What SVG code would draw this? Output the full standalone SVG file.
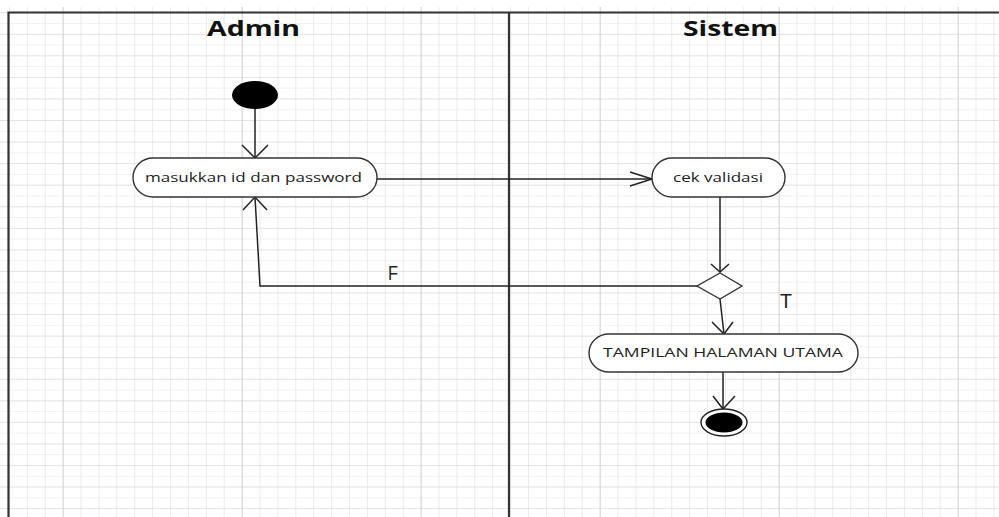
<svg xmlns="http://www.w3.org/2000/svg" width="999" height="517" viewBox="0 0 999 517">
  <style>
    .lane { stroke: #333; stroke-width: 2.2; fill: none; }
    .act { fill: #fff; stroke: #333; stroke-width: 1.4; }
    .label { font-family: "Open Sans", "DejaVu Sans", sans-serif; font-size: 12.5px; fill: #222; }
    .head { font-family: "Open Sans", "DejaVu Sans", sans-serif; font-size: 22px; font-weight: bold; fill: #111; }
    .guard { font-family: "Liberation Sans", Arial, sans-serif; font-size: 20px; fill: #222; }
    .flow { stroke: #222; stroke-width: 1.5; fill: none; }
  </style>
  <defs>
    <pattern id="gridV" patternUnits="userSpaceOnUse" x="8.9" y="0" width="17.9" height="517">
      <line x1="0" y1="0" x2="0" y2="517" stroke="#e3e3e3" stroke-width="1.4"/>
    </pattern>
    <pattern id="gridH" patternUnits="userSpaceOnUse" x="0" y="12.2" width="999" height="10.78">
      <line x1="0" y1="0" x2="999" y2="0" stroke="#e3e3e3" stroke-width="1.2"/>
    </pattern>
    <pattern id="gridMajorV" patternUnits="userSpaceOnUse" x="62.7" y="0" width="179" height="517">
      <line x1="0" y1="0" x2="0" y2="517" stroke="#cfcfcf" stroke-width="1.6"/>
    </pattern>
    <pattern id="gridMajorH" patternUnits="userSpaceOnUse" x="0" y="33.8" width="999" height="21.56">
      <line x1="0" y1="0" x2="999" y2="0" stroke="#d8d8d8" stroke-width="1.2"/>
    </pattern>
  </defs>

  <!-- background and drawing grid -->
  <rect width="999" height="517" fill="#fff"/>
  <g id="grid">
    <rect x="0" y="7" width="999" height="510" fill="url(#gridV)"/>
    <rect x="0" y="7" width="999" height="510" fill="url(#gridH)"/>
    <rect x="0" y="7" width="999" height="510" fill="url(#gridMajorH)"/>
    <rect x="0" y="7" width="999" height="510" fill="url(#gridMajorV)"/>
  </g>

  <!-- swimlanes -->
  <g id="lanes">
    <path class="lane" d="M8.5,517 V12.5 H999"/>
    <line class="lane" x1="509" y1="12.5" x2="509" y2="517"/>
    <text class="head" x="207" y="36" textLength="93" lengthAdjust="spacingAndGlyphs">Admin</text>
    <text class="head" x="683" y="36" textLength="95" lengthAdjust="spacingAndGlyphs">Sistem</text>
  </g>

  <!-- connectors -->
  <g id="connectors">
    <!-- start to login -->
    <line class="flow" x1="255" y1="109" x2="255" y2="158"/>
    <polyline class="flow" points="242,145 255,158 268,145"/>
    <!-- login to validation -->
    <line class="flow" x1="377" y1="179" x2="652" y2="179"/>
    <polyline class="flow" points="630,172 652,179 630,186"/>
    <!-- validation to decision -->
    <line class="flow" x1="720" y1="197" x2="720" y2="272"/>
    <polyline class="flow" points="711,264 720,272 729,264"/>
    <!-- decision false branch back to login -->
    <polyline class="flow" points="697,286 260,286 255,197"/>
    <polyline class="flow" points="243,210 255,197 267,210"/>
    <text class="guard" x="388" y="280" textLength="10" lengthAdjust="spacingAndGlyphs">F</text>
    <!-- decision true branch to main page -->
    <line class="flow" x1="720" y1="299" x2="724" y2="334"/>
    <polyline class="flow" points="712,322 724,334 733,322"/>
    <text class="guard" x="780" y="308" textLength="12" lengthAdjust="spacingAndGlyphs">T</text>
    <!-- main page to end -->
    <line class="flow" x1="723" y1="372" x2="723" y2="409"/>
    <polyline class="flow" points="713,396 723,409 735,396"/>
  </g>

  <!-- nodes -->
  <g id="start">
    <ellipse cx="255" cy="95" rx="23" ry="14" fill="#000"/>
  </g>
  <g id="login">
    <rect class="act" x="133" y="158" width="244" height="39" rx="20" ry="19.5"/>
    <text class="label" x="145" y="182" textLength="217" lengthAdjust="spacingAndGlyphs">masukkan id dan password</text>
  </g>
  <g id="validation">
    <rect class="act" x="652" y="158" width="133" height="39" rx="20" ry="19.5"/>
    <text class="label" x="673" y="182" textLength="90" lengthAdjust="spacingAndGlyphs">cek validasi</text>
  </g>
  <g id="decision">
    <polygon class="act" points="720,273 742,286 720,299 697,286"/>
  </g>
  <g id="mainPage">
    <rect class="act" x="589" y="334" width="269" height="38" rx="20" ry="19"/>
    <text class="label" x="603" y="357" textLength="240" lengthAdjust="spacingAndGlyphs">TAMPILAN HALAMAN UTAMA</text>
  </g>
  <g id="end">
    <ellipse cx="724" cy="422.5" rx="23" ry="13.5" fill="#fff" stroke="#222" stroke-width="1.4"/>
    <ellipse cx="724" cy="422.5" rx="18.5" ry="10" fill="#000"/>
  </g>
</svg>
